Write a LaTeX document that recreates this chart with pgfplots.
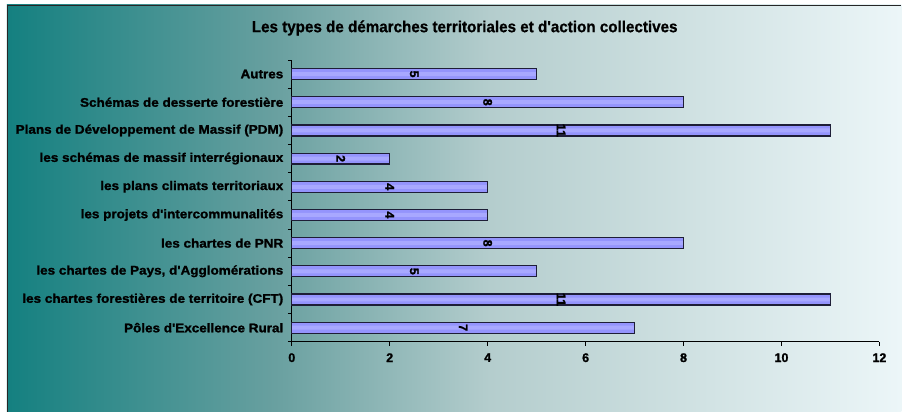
\documentclass[border=0pt]{standalone}
\usepackage{fontspec}
\setmainfont{Liberation Sans}
\newfontfamily\heavy[FakeBold=1.4]{Liberation Sans Bold}
\newfontfamily\wideheavy[FakeStretch=1.08,FakeBold=1.4]{Liberation Sans Bold}
\newfontfamily\narrowheavy[FakeStretch=0.95,FakeBold=0.8]{Liberation Sans Bold}
\usepackage{pgfplots}
\pgfplotsset{compat=1.18}

\definecolor{bgA}{RGB}{20,128,128}
\definecolor{bgB}{RGB}{105,160,160}
\definecolor{bgC}{RGB}{180,205,205}
\definecolor{bgD}{RGB}{236,246,248}
\definecolor{barfill}{RGB}{148,148,252}
\definecolor{barlight}{RGB}{168,168,255}
\definecolor{barline}{RGB}{30,30,55}
% TikZ maps the path onto the middle 25bp..75bp of the shading
\pgfdeclarehorizontalshading{bg}{100bp}{color(0bp)=(bgA); color(25bp)=(bgA); color(40bp)=(bgB); color(52bp)=(bgC); color(75bp)=(bgD); color(100bp)=(bgD)}

\begin{document}
\begin{tikzpicture}
\fill[white] (0,0) rectangle (902bp,412bp);
\shade[shading=bg] (7bp,0) rectangle (902bp,407bp);
\draw[black!85, line width=1.2bp] (7.6bp,0) -- (7.6bp,406.4bp) -- (902bp,406.4bp);
\node[font=\narrowheavy\fontsize{16bp}{18bp}\selectfont] at (465bp,384bp)
  {Les types de démarches territoriales et d'action collectives};
\begin{axis}[
  at={(292bp,70bp)}, anchor=south west,
  scale only axis, width=588bp, height=282bp,
  xmin=0, xmax=12, ymin=-0.5, ymax=9.5,
  axis x line*=bottom, axis y line*=left,
  axis line style={black, line width=0.8bp},
  tick style={black, line width=0.8bp},
  tick align=outside,
  xtick={0,2,...,12},
  major tick length=4bp,
  ytick={-0.5,0.5,...,9.5},
  yticklabels={},
  extra y ticks={0,...,9},
  extra y tick labels={Pôles d'Excellence Rural,
    les chartes forestières de territoire (CFT),
    {les chartes de Pays, d'Agglomérations},
    les chartes de PNR,
    les projets d'intercommunalités,
    les plans climats territoriaux,
    les schémas de massif interrégionaux,
    Plans de Développement de Massif (PDM),
    Schémas de desserte forestière,
    Autres},
  extra y tick style={major tick length=0pt,
    yticklabel style={font=\wideheavy\fontsize{12.5bp}{14bp}\selectfont, xshift=-5bp}},
  /pgf/number format/assume math mode=true,
  xticklabel style={font=\heavy\fontsize{12.5bp}{14bp}\selectfont, yshift=-4bp},
  clip=false,
]
\addplot[xbar, bar shift=0pt, bar width=11bp, fill=barfill, draw=none] coordinates {
  (7,0) (11,1) (5,2) (8,3) (4,4) (4,5) (2,6) (11,7) (8,8) (5,9)};
\addplot[xbar, bar shift=0pt, bar width=4bp, fill=barlight, draw=none] coordinates {
  (7,0) (11,1) (5,2) (8,3) (4,4) (4,5) (2,6) (11,7) (8,8) (5,9)};
\addplot[xbar, bar shift=0pt, bar width=11bp, fill=none, draw=barline, line width=1.2bp] coordinates {
  (7,0) (11,1) (5,2) (8,3) (4,4) (4,5) (2,6) (11,7) (8,8) (5,9)};
\addplot[only marks, mark=none, draw=none, nodes near coords, point meta=explicit symbolic,
  nodes near coords style={anchor=center, rotate=-90, inner sep=0pt,
    font=\heavy\fontsize{12.5bp}{14bp}\selectfont}] coordinates {
  (3.5,0)[7] (5.5,1)[11] (2.5,2)[5] (4,3)[8] (2,4)[4] (2,5)[4] (1,6)[2] (5.5,7)[11] (4,8)[8] (2.5,9)[5]};
\end{axis}
\end{tikzpicture}
\end{document}
